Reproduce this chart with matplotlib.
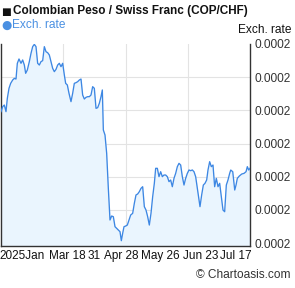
import matplotlib
matplotlib.use("Agg")
import matplotlib.pyplot as plt
from matplotlib.ticker import FormatStrFormatter
from matplotlib import font_manager as fm
import numpy as np

plt.rcParams['font.family'] = ['Liberation Sans', 'DejaVu Sans']


def _wt(w):
    if isinstance(w, (int, float)):
        return w
    return {'bold': 700, 'heavy': 800, 'black': 900, 'semibold': 600,
            'demibold': 600, 'extra bold': 800}.get(str(w).lower(), 400)


def bold_props(size):
    for fam in ['Liberation Sans', 'Arimo', 'Roboto', 'Lato', 'Noto Sans', 'Open Sans', 'Inter']:
        cands = [f for f in fm.fontManager.ttflist
                 if f.name == fam and _wt(f.weight) >= 650 and f.style == 'normal'
                 and 'condensed' not in f.fname.lower()]
        if cands:
            cands.sort(key=lambda f: abs(_wt(f.weight) - 700))
            return fm.FontProperties(fname=cands[0].fname, size=size)
    return fm.FontProperties(family='DejaVu Sans', weight='bold', size=size)


# Days since start of the period (~20 Jan 2025)
days = [0.0, 1.21, 2.42, 3.63, 4.60, 5.81, 7.03, 8.48, 9.69, 10.90, 11.87, 13.08, 14.54, 15.75,
        16.96, 17.93, 19.14, 20.59, 21.81, 23.02, 24.23, 25.44, 26.65, 27.86, 29.07, 30.29,
        31.50, 32.71, 33.92, 35.13, 36.34, 37.56, 38.77, 39.98, 41.19, 42.40, 43.61, 44.83,
        46.04, 47.00, 48.22, 49.43, 50.88, 52.09, 53.30, 54.52, 55.73, 56.94, 58.15, 59.36,
        60.57, 61.79, 63.00, 64.21, 65.42, 66.63, 67.84, 69.06, 70.27, 71.48, 72.69, 73.66,
        74.39, 75.60, 76.81, 78.02, 79.23, 80.44, 81.66, 82.87, 84.08, 85.29, 86.50, 87.47,
        88.44, 89.41, 90.62, 91.83, 93.04, 94.26, 95.71, 96.92, 98.13, 99.34, 100.55, 101.77,
        102.98, 104.19, 105.40, 106.61, 107.82, 109.03, 110.25, 111.46, 112.43, 113.64,
        114.85, 116.06, 117.27, 118.48, 119.70, 120.91, 122.12, 123.33, 124.54, 125.75,
        126.97, 128.18, 129.39, 130.60, 131.81, 133.02, 134.23, 135.45, 136.66, 137.87,
        139.08, 140.29, 141.50, 142.72, 143.93, 144.65, 145.86, 147.08, 148.29, 149.50,
        150.47, 151.68, 152.89, 154.10, 155.31, 156.52, 157.74, 158.95, 160.16, 161.37,
        162.58, 163.79, 165.00, 166.22, 167.0, 168.45, 169.90, 170.85, 171.79, 173.24,
        174.99, 176.66, 178.12, 179.06, 180.08, 181.0]

# COP/CHF rate in millionths (x 1e-6)
rate_e6 = [204.80, 205.55, 205.80, 204.80, 206.81, 208.32, 209.07, 209.57, 209.82, 209.72,
           212.09, 212.74, 212.09, 212.59, 211.83, 210.58, 211.08, 212.34, 213.59, 214.60,
           214.95, 214.60, 212.09, 211.83, 212.34, 212.49, 214.60, 213.84, 213.69, 213.34,
           212.34, 211.33, 210.83, 211.18, 211.83, 212.09, 211.58, 212.09, 210.33, 209.07,
           208.82, 207.56, 206.31, 207.56, 209.07, 209.17, 209.32, 209.57, 209.72, 207.31,
           206.71, 206.96, 207.06, 207.06, 207.31, 208.57, 208.32, 205.30, 205.40, 206.06,
           207.06, 208.07, 202.04, 201.28, 198.52, 193.24, 188.47, 189.07, 188.97, 187.46,
           187.21, 186.96, 186.71, 185.35, 186.46, 187.46, 187.56, 187.71, 188.47, 189.22,
           189.47, 190.98, 192.24, 192.39, 192.74, 193.24, 193.49, 190.48, 189.97, 188.97,
           187.71, 189.47, 191.98, 194.00, 196.26, 196.26, 195.00, 195.75, 195.00, 195.25,
           195.25, 195.00, 194.25, 194.50, 193.49, 194.75, 195.50, 196.51, 197.01, 196.76,
           195.00, 193.74, 194.75, 195.50, 196.01, 195.90, 196.01, 195.75, 195.00, 193.24,
           191.48, 190.48, 192.24, 193.74, 194.00, 194.50, 196.01, 197.26, 196.51, 196.76,
           193.49, 194.75, 193.49, 194.00, 191.98, 189.97, 189.72, 193.74, 194.50, 195.50,
           196.00, 195.75, 192.99, 193.74, 194.75, 195.10, 195.40, 195.50, 195.75, 196.51,
           196.00, 196.26]

xtick_days = [15.3, 48.0, 68.0, 87.2, 116.0, 145.0, 170.8]
xtick_labels = ["2025Jan", "Mar 18", "31", "Apr 28", "May 26", "Jun 23", "Jul 17"]
grid_days = [45.25, 90.5, 135.75]
ytick_e6 = [185, 190, 195, 200, 205, 210, 215]

rates = np.array(rate_e6) * 1e-6
yticks = np.array(ytick_e6) * 1e-6
ymin, ymax = 184.55e-6, 215.0e-6

fig = plt.figure(figsize=(2.95, 2.88), dpi=100)
ax = fig.add_axes([1 / 295, 42 / 288, 249 / 295, 202 / 288])

line_color = '#3d87e3'
ax.fill_between(days, rates, ymin, color='#eaf5fe', lw=0, zorder=1)
ax.plot(days, rates, color=line_color, lw=0.95, zorder=3)

ax.set_xlim(0, 181)
ax.set_ylim(ymin, ymax)

ax.set_xticks(xtick_days)
ax.set_xticklabels(xtick_labels)
ax.set_xticks(grid_days, minor=True)
ax.tick_params(axis='x', which='both', length=0, pad=3, labelsize=8.5, colors='#111111')
ax.grid(axis='x', which='minor', color='#e3e3e3', lw=0.8, zorder=0)

ax.yaxis.tick_right()
ax.set_yticks(yticks)
ax.yaxis.set_major_formatter(FormatStrFormatter('%.4f'))
ax.tick_params(axis='y', length=0, pad=3, labelsize=8.6, labelcolor='#333333')
ax.grid(axis='y', which='major', color='#e3e3e3', lw=0.8, zorder=0)
gl = ax.yaxis.get_gridlines()
gl[0].set_visible(False)
gl[-1].set_visible(False)

for side in ['left', 'bottom', 'right']:
    ax.spines[side].set_color('#333333')
    ax.spines[side].set_linewidth(1.0)
ax.spines['top'].set_visible(False)
ax.set_axisbelow(True)

# Title with square marker
title_fp = bold_props(8.5)
fig.text(1.5 / 295, 1 - 11.5 / 288, "■", fontsize=7.5, family='DejaVu Sans',
         color='#111111', ha='left', va='center')
title = fig.text(13 / 295, 1 - 11 / 288, "Colombian Peso / Swiss Franc (COP/CHF)",
                 fontproperties=title_fp, color='#111111', ha='left', va='center')
# Legend
fig.text(1 / 295, 1 - 25 / 288, "●", fontsize=8.6, family='DejaVu Sans', color='#4a90e2',
         ha='left', va='center')
fig.text(11.5 / 295, 1 - 25 / 288, "Exch. rate", fontsize=8.6, color='#4a90e2',
         ha='left', va='center')
fig.text(291 / 295, 1 - 30 / 288, "Exch. rate", fontsize=8.6, color='#111111',
         ha='right', va='center')
fig.text(290 / 295, 1 - 275 / 288, "© Chartoasis.com", fontsize=8.6, color='#333333',
         ha='right', va='center')

# fit the title to the reference width (~233 px)
fig.canvas.draw()
w = title.get_window_extent(renderer=fig.canvas.get_renderer()).width
if w > 0:
    title.set_fontsize(title.get_fontsize() * 233.0 / w)

fig.savefig('out.png', dpi=100)
